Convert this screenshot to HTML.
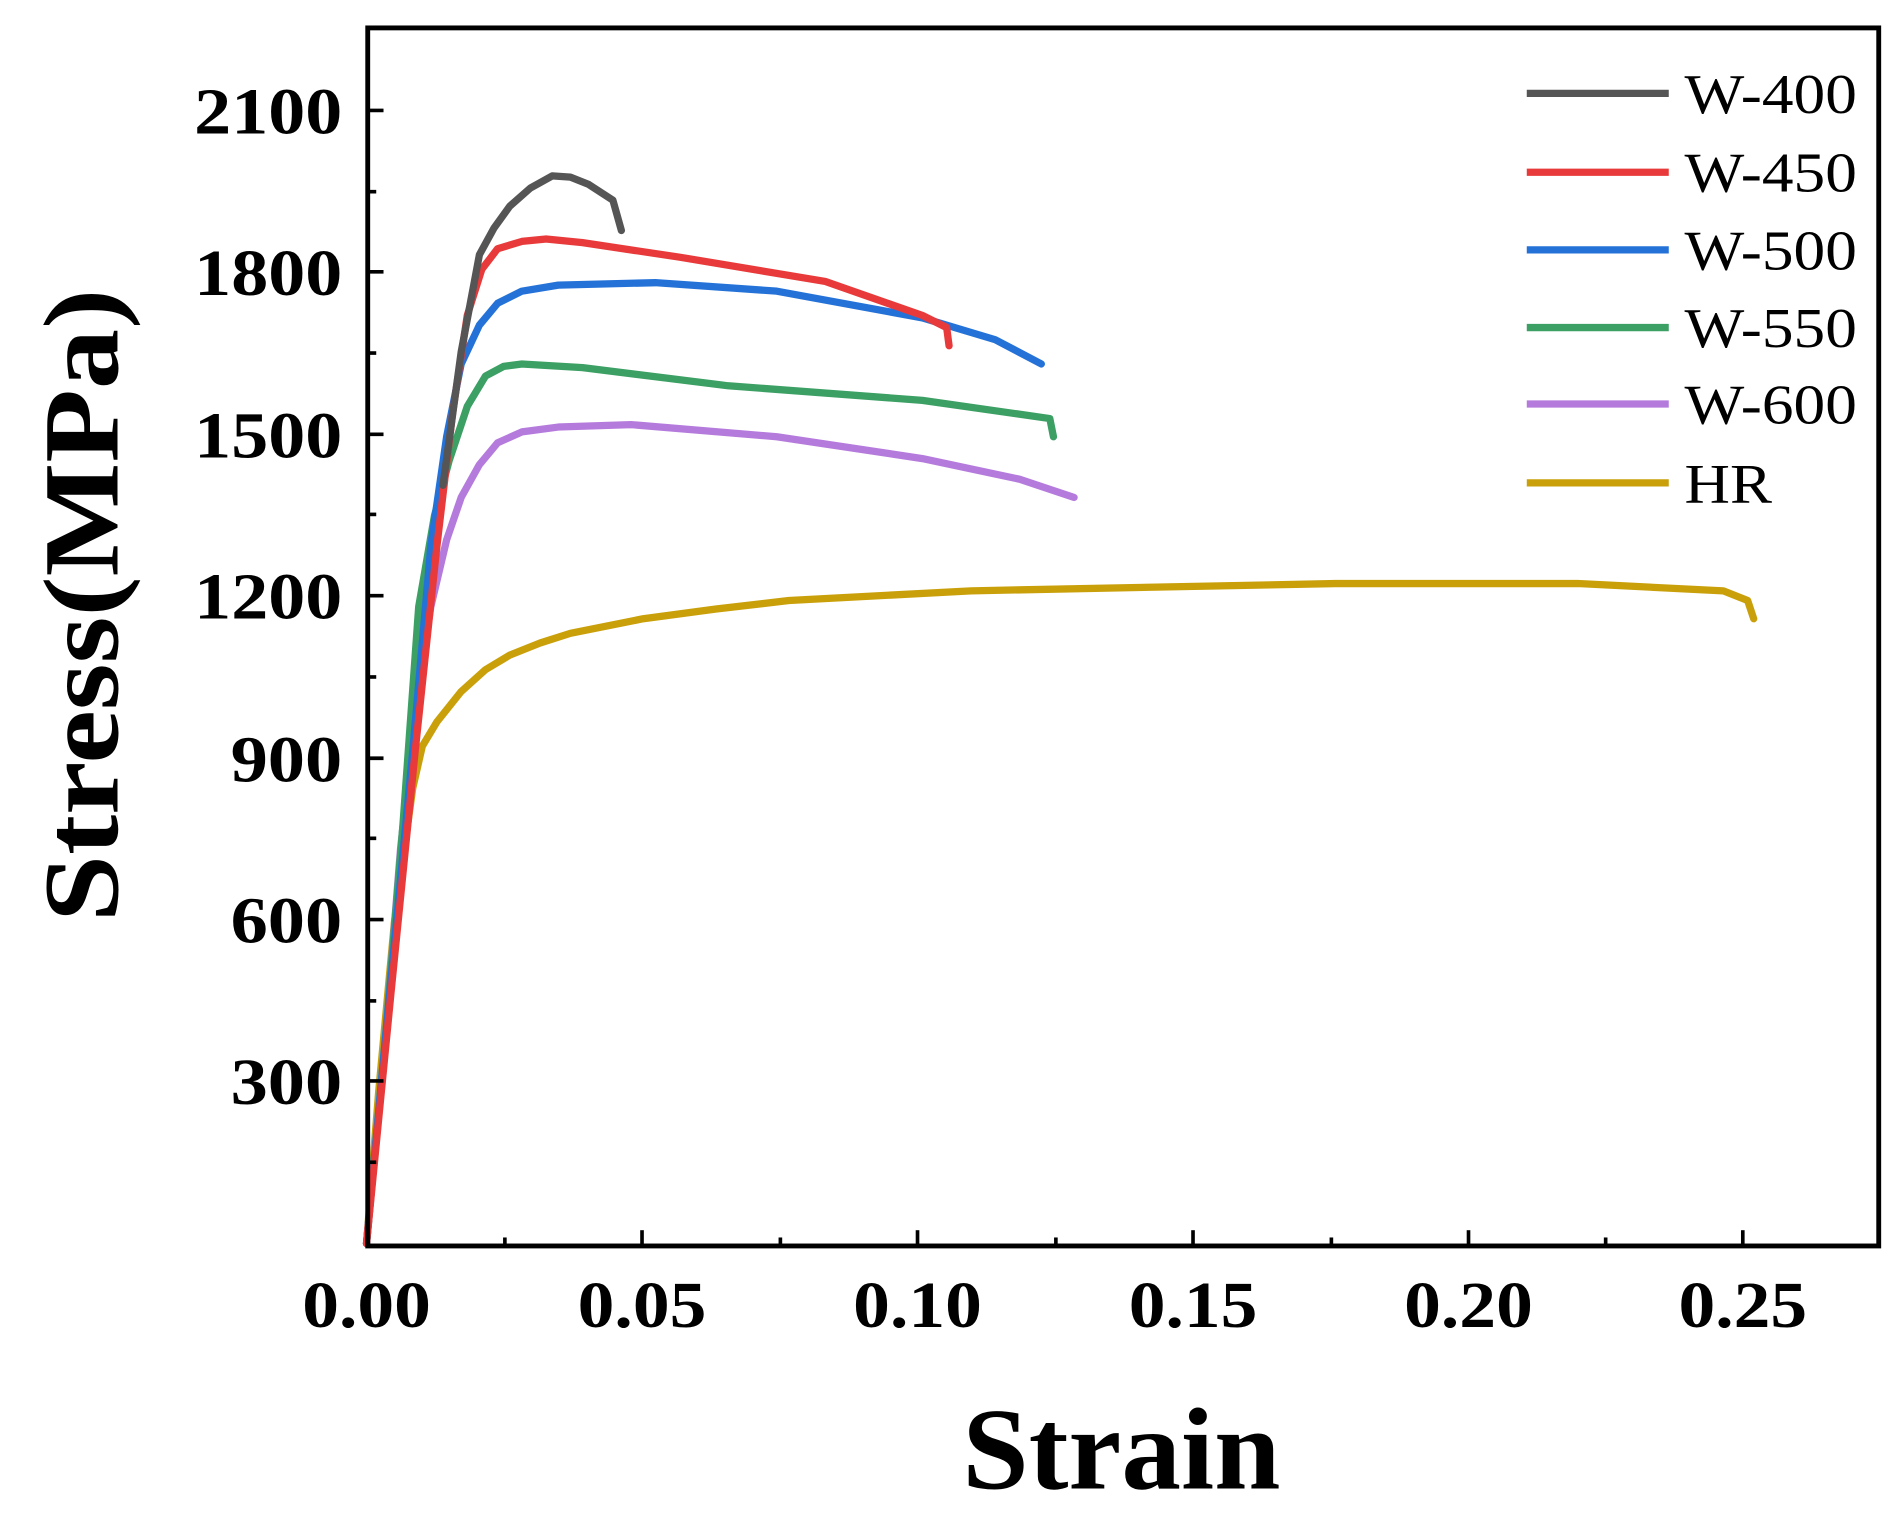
<!DOCTYPE html>
<html><head><style>html,body{margin:0;padding:0;background:#fff}svg{display:block}</style></head><body>
<svg width="1903" height="1525" viewBox="0 0 1568 1257" preserveAspectRatio="none" xmlns="http://www.w3.org/2000/svg">
<rect width="1568" height="1257" fill="#fff"/>
<g fill="none" stroke-width="6" stroke-linejoin="round" stroke-linecap="round">
<polyline stroke="#c9a00a" points="302,1025 312,900 325,760 340,650 348,615 360,595 380,570 400,552 420,540 445,530 470,522 530,510 590,502 650,495 800,487 1000,483 1100,481 1300,481 1420,487 1440,495 1445,510"/>
<polyline stroke="#b57bdc" points="302,1025 318,850 330,700 343,580 355,500 368,445 380,410 395,383 410,365 430,356 460,352 520,350 640,360 760,378 840,395 885,410"/>
<polyline stroke="#3c9f64" points="302,1025 318,850 332,680 345,500 358,425 370,380 385,335 400,310 415,302 430,300 480,303 600,318 760,330 865,345 868,360"/>
<polyline stroke="#2472d8" points="302,1025 320,830 340,620 355,450 368,360 380,300 395,268 410,250 430,240 460,235 540,233 640,240 760,262 820,280 858,300"/>
<polyline stroke="#e83a3a" points="302,1025 322,820 342,620 360,450 373,340 385,260 397,222 410,205 430,199 450,197 480,200 560,212 680,232 760,260 780,270 782,285"/>
<polyline stroke="#555" points="365,400 380,290 395,210 407,188 420,170 437,155 455,145 470,146 485,152 505,165 512,190"/>
</g>
<rect x="303" y="23" width="1245" height="1004" fill="none" stroke="#000" stroke-width="4"/>
<g stroke="#000" stroke-width="3">
<line x1="529" y1="1027" x2="529" y2="1014"/><line x1="756" y1="1027" x2="756" y2="1014"/><line x1="983" y1="1027" x2="983" y2="1014"/><line x1="1210" y1="1027" x2="1210" y2="1014"/><line x1="1436" y1="1027" x2="1436" y2="1014"/>
<line x1="416" y1="1027" x2="416" y2="1020"/><line x1="643" y1="1027" x2="643" y2="1020"/><line x1="870" y1="1027" x2="870" y2="1020"/><line x1="1097" y1="1027" x2="1097" y2="1020"/><line x1="1323" y1="1027" x2="1323" y2="1020"/>
<line x1="303" y1="91" x2="316" y2="91"/><line x1="303" y1="224" x2="316" y2="224"/><line x1="303" y1="358" x2="316" y2="358"/><line x1="303" y1="491" x2="316" y2="491"/><line x1="303" y1="625" x2="316" y2="625"/><line x1="303" y1="758" x2="316" y2="758"/><line x1="303" y1="891" x2="316" y2="891"/>
<line x1="303" y1="158" x2="310" y2="158"/><line x1="303" y1="291" x2="310" y2="291"/><line x1="303" y1="424" x2="310" y2="424"/><line x1="303" y1="558" x2="310" y2="558"/><line x1="303" y1="691" x2="310" y2="691"/><line x1="303" y1="825" x2="310" y2="825"/><line x1="303" y1="958" x2="310" y2="958"/>
</g>
<g font-family="Liberation Serif, serif" font-weight="bold" font-size="54" fill="#000">
<text x="160" y="110" textLength="122" lengthAdjust="spacingAndGlyphs">2100</text>
<text x="160" y="243" textLength="122" lengthAdjust="spacingAndGlyphs">1800</text>
<text x="160" y="377" textLength="122" lengthAdjust="spacingAndGlyphs">1500</text>
<text x="160" y="510" textLength="122" lengthAdjust="spacingAndGlyphs">1200</text>
<text x="190" y="644" textLength="92" lengthAdjust="spacingAndGlyphs">900</text>
<text x="190" y="777" textLength="92" lengthAdjust="spacingAndGlyphs">600</text>
<text x="190" y="910" textLength="92" lengthAdjust="spacingAndGlyphs">300</text>
<text x="249" y="1094" textLength="106" lengthAdjust="spacingAndGlyphs">0.00</text>
<text x="476" y="1094" textLength="106" lengthAdjust="spacingAndGlyphs">0.05</text>
<text x="703" y="1094" textLength="106" lengthAdjust="spacingAndGlyphs">0.10</text>
<text x="930" y="1094" textLength="106" lengthAdjust="spacingAndGlyphs">0.15</text>
<text x="1157" y="1094" textLength="106" lengthAdjust="spacingAndGlyphs">0.20</text>
<text x="1383" y="1094" textLength="106" lengthAdjust="spacingAndGlyphs">0.25</text>
<text x="793" y="1227" font-size="96" textLength="262" lengthAdjust="spacingAndGlyphs">Strain</text>
<text transform="translate(97,760) rotate(-90)" font-size="88" textLength="522" lengthAdjust="spacingAndGlyphs">Stress(MPa)</text>
</g>
<g stroke-width="6">
<line x1="1258" y1="77" x2="1375" y2="77" stroke="#555"/>
<line x1="1258" y1="142" x2="1375" y2="142" stroke="#e83a3a"/>
<line x1="1258" y1="206" x2="1375" y2="206" stroke="#2472d8"/>
<line x1="1258" y1="270" x2="1375" y2="270" stroke="#3c9f64"/>
<line x1="1258" y1="333" x2="1375" y2="333" stroke="#b57bdc"/>
<line x1="1258" y1="398" x2="1375" y2="398" stroke="#c9a00a"/>
</g>
<g font-family="Liberation Serif, serif" font-size="46" fill="#000">
<text x="1388" y="93" textLength="142" lengthAdjust="spacingAndGlyphs">W-400</text>
<text x="1388" y="158" textLength="142" lengthAdjust="spacingAndGlyphs">W-450</text>
<text x="1388" y="222" textLength="142" lengthAdjust="spacingAndGlyphs">W-500</text>
<text x="1388" y="286" textLength="142" lengthAdjust="spacingAndGlyphs">W-550</text>
<text x="1388" y="349" textLength="142" lengthAdjust="spacingAndGlyphs">W-600</text>
<text x="1388" y="414" textLength="72" lengthAdjust="spacingAndGlyphs">HR</text>
</g>
</svg>
</body></html>
